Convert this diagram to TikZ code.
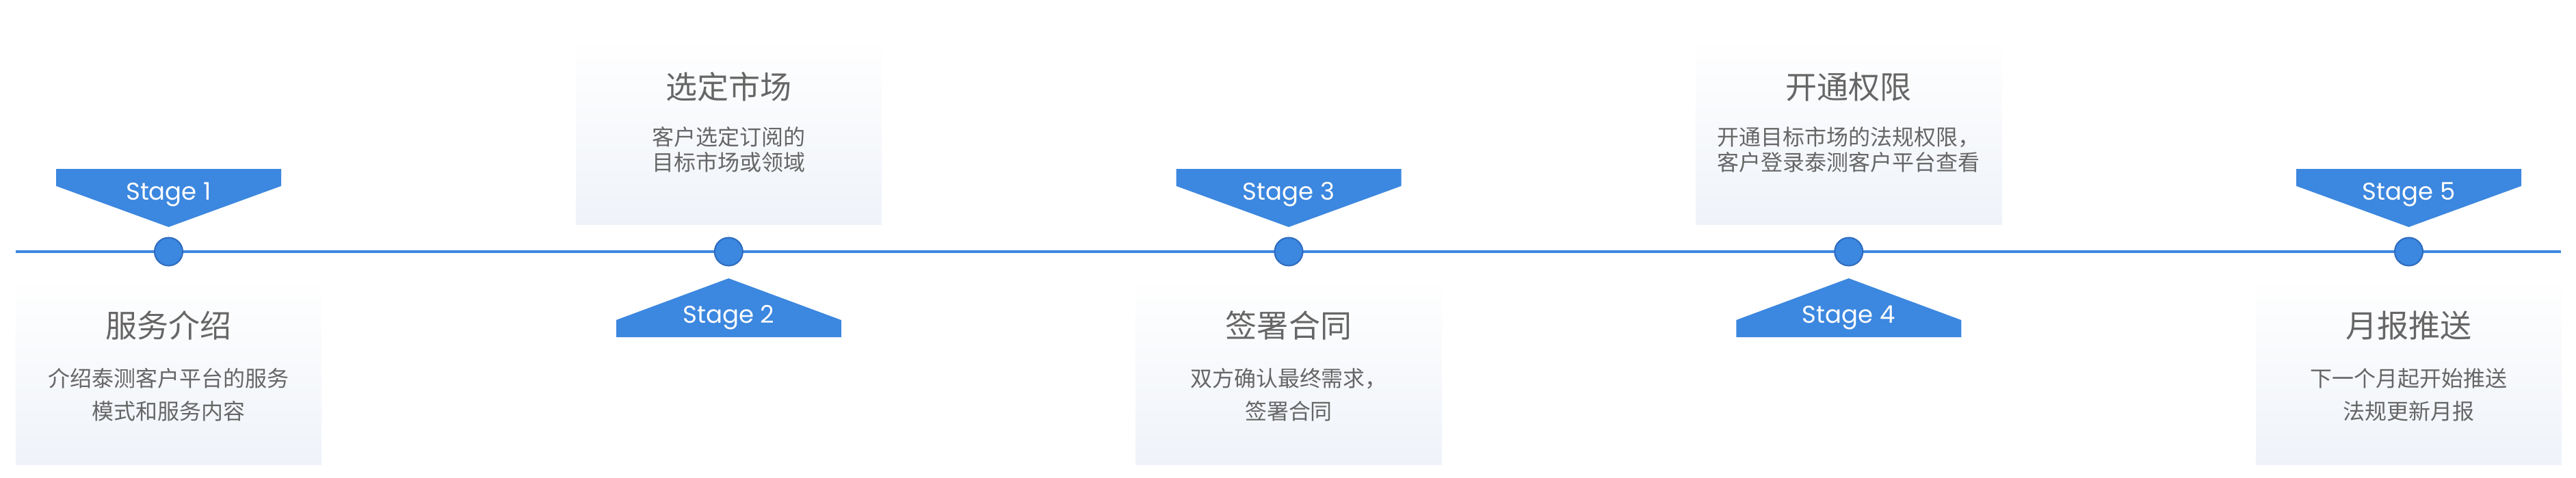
\documentclass[tikz,border=0pt]{standalone}
\usepackage{fontspec}
\setmainfont{Noto Sans CJK SC}
\newfontfamily\stagefont{Poppins}
\definecolor{stageblue}{HTML}{3C87DF}
\definecolor{dotedge}{HTML}{2E6CC0}
\definecolor{textgray}{HTML}{666666}
\definecolor{cardbg}{HTML}{EFF3F9}

\begin{document}
\begin{tikzpicture}[x=1cm, y=-1cm,
  card/.style={top color=white, bottom color=cardbg, minimum width=4.47cm, minimum height=2.76cm, inner sep=0pt},
  dot/.style={circle, fill=stageblue, draw=dotedge, line width=0.6pt, minimum size=0.41cm, inner sep=0pt},
  stagetxt/.style={anchor=base, text=white, inner sep=0pt, font=\stagefont\fontsize{10.1}{12}\selectfont},
  title/.style={text=textgray, inner sep=0pt, font=\fontsize{13.1}{15}\selectfont},
  desc/.style={text=textgray, align=center, inner sep=0pt, font=\fontsize{9.1}{13.7}\selectfont}]
\useasboundingbox (0,0) rectangle (37.66,6.98);

% cards
\node[card] (card1) at (2.465,5.41) {};
\node[card] (card2) at (10.6525,1.90) {};
\node[card] (card3) at (18.84,5.41) {};
\node[card] (card4) at (27.0275,1.90) {};
\node[card] (card5) at (35.215,5.41) {};

\node[title] (t1) at (2.465,4.76) {服务介绍};
\node[desc] (c1) at (2.465,5.775) {介绍泰测客户平台的服务\\模式和服务内容};
\node[title] (t2) at (10.6525,1.27) {选定市场};
\node[desc, font=\fontsize{9.1}{10.5}\selectfont] (c2) at (10.6525,2.185) {客户选定订阅的\\目标市场或领域};
\node[title] (t3) at (18.84,4.76) {签署合同};
\node[desc] (c3) at (18.84,5.775) {双方确认最终需求，\\签署合同};
\node[title] (t4) at (27.0275,1.27) {开通权限};
\node[desc, font=\fontsize{9.1}{10.5}\selectfont] (c4) at (27.0275,2.185) {开通目标市场的法规权限，\\客户登录泰测客户平台查看};
\node[title] (t5) at (35.215,4.76) {月报推送};
\node[desc] (c5) at (35.215,5.775) {下一个月起开始推送\\法规更新月报};

% timeline
\coordinate (start) at (0.23,3.68);
\coordinate (end) at (37.44,3.68);
\draw[stageblue, line width=0.04cm] (start) -- (end);

\node[dot] (d1) at (2.465,3.68) {};
\node[dot] (d2) at (10.6525,3.68) {};
\node[dot] (d3) at (18.84,3.68) {};
\node[dot] (d4) at (27.0275,3.68) {};
\node[dot] (d5) at (35.215,3.68) {};

% stage banners
\fill[stageblue] (0.82,2.47) -- ++(3.29,0) -- ++(0,0.25) -- ++(-1.645,0.6) -- ++(-1.645,-0.6) -- cycle;
\fill[stageblue] (9.0075,4.93) -- ++(3.29,0) -- ++(0,-0.25) -- ++(-1.645,-0.61) -- ++(-1.645,0.61) -- cycle;
\fill[stageblue] (17.195,2.47) -- ++(3.29,0) -- ++(0,0.25) -- ++(-1.645,0.6) -- ++(-1.645,-0.6) -- cycle;
\fill[stageblue] (25.3825,4.93) -- ++(3.29,0) -- ++(0,-0.25) -- ++(-1.645,-0.61) -- ++(-1.645,0.61) -- cycle;
\fill[stageblue] (33.57,2.47) -- ++(3.29,0) -- ++(0,0.25) -- ++(-1.645,0.6) -- ++(-1.645,-0.6) -- cycle;

\node[stagetxt] (s1) at (2.465,2.92) {Stage 1};
\node[stagetxt] (s2) at (10.6525,4.72) {Stage 2};
\node[stagetxt] (s3) at (18.84,2.92) {Stage 3};
\node[stagetxt] (s4) at (27.0275,4.72) {Stage 4};
\node[stagetxt] (s5) at (35.215,2.92) {Stage 5};
\end{tikzpicture}
\end{document}
